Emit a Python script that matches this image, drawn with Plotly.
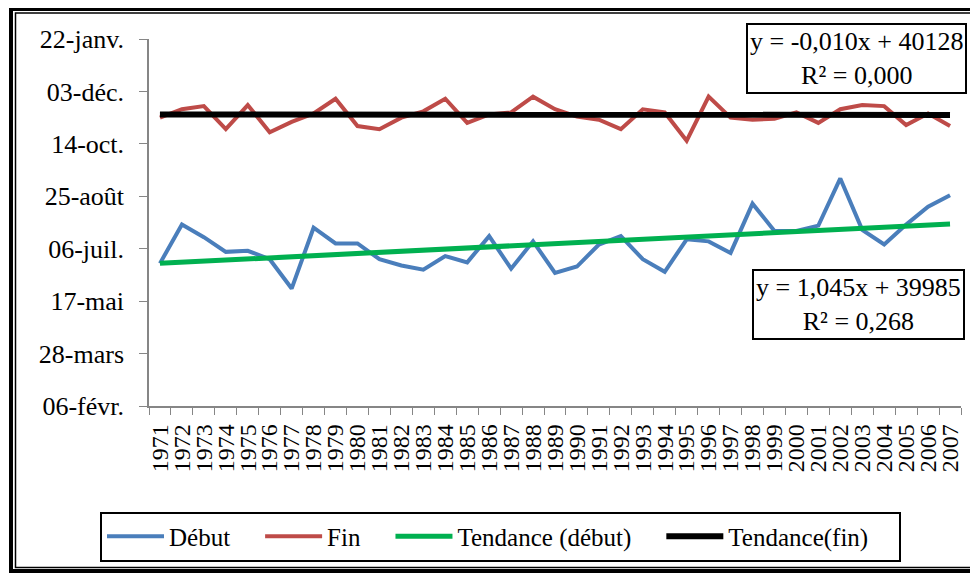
import plotly.graph_objects as go

annees = [str(a) for a in range(1971, 2008)]

debut = [39986, 40023, 40011, 39997, 39998, 39990, 39962, 40020, 40005, 40005,
         39990, 39984, 39980, 39993, 39987, 40012, 39981, 40007, 39977, 39983,
         40004, 40012, 39990, 39978, 40009, 40007, 39996, 40043, 40017, 40017,
         40022, 40067, 40018, 40004, 40023, 40040, 40051]

fin = [40125, 40133, 40136, 40114, 40137, 40111, 40121, 40129, 40143, 40117,
       40114, 40125, 40131, 40143, 40120, 40128, 40130, 40145, 40133, 40126,
       40123, 40114, 40133, 40130, 40103, 40145, 40125, 40123, 40124, 40130,
       40120, 40133, 40137, 40136, 40118, 40129, 40117]

# equations des courbes de tendance (affichées sur le graphique)
pente_debut, origine_debut, r2_debut = 1.045, 39985, 0.268
pente_fin, origine_fin, r2_fin = -0.010, 40128, 0.000

tick_vals = [39850, 39900, 39950, 40000, 40050, 40100, 40150, 40200]
tick_text = ['06-févr.', '28-mars', '17-mai', '06-juil.', '25-août', '14-oct.', '03-déc.', '22-janv.']

tendance_debut = [origine_debut + pente_debut * (i + 1) for i in range(len(annees))]
tendance_fin = [origine_fin + pente_fin * (i + 1) for i in range(len(annees))]

# la page html ajoute une marge de 8 px autour du graphique
OFF = 8
W, H = 978 - OFF, 574 - OFF
ML, MR, MT, MB = 149 - OFF, 17, 39 - OFF, 168
PW, PH = W - ML - MR, H - MT - MB


def px(x, y):
    # position en pixels de la page -> coordonnées 'paper'
    return (x - OFF - ML) / PW, (H - MB - (y - OFF)) / PH


def fr(v):
    return f'{v:.3f}'.replace('.', ',')


police = 'Liberation Serif, Times New Roman, serif'
pad = '\u00a0' * 4

fig = go.Figure()
fig.add_trace(go.Scatter(x=annees, y=debut, mode='lines', name='Début' + pad,
                         line=dict(color='#4A7EBB', width=4)))
fig.add_trace(go.Scatter(x=annees, y=fin, mode='lines', name='Fin' + pad,
                         line=dict(color='#BE4B48', width=4)))
fig.add_trace(go.Scatter(x=annees, y=tendance_debut, mode='lines', name='Tendance (début)' + pad,
                         line=dict(color='#00B050', width=5)))
fig.add_trace(go.Scatter(x=annees, y=tendance_fin, mode='lines', name='Tendance(fin)' + pad,
                         line=dict(color='black', width=6)))

signe_fin = '-' if pente_fin < 0 else ''
txt_fin = f'y = {signe_fin}{fr(abs(pente_fin))}x + {origine_fin}<br>R² = {fr(r2_fin)}'
txt_debut = f'y = {fr(pente_debut)}x + {origine_debut}<br>R² = {fr(r2_debut)}'

ax1, ay1 = px(856, 58)
ax2, ay2 = px(858, 304.5)
for tx, ax, ay in [(txt_fin, ax1, ay1), (txt_debut, ax2, ay2)]:
    fig.add_annotation(x=ax, y=ay, xref='paper', yref='paper', xanchor='center', yanchor='middle',
                       text=tx, showarrow=False,
                       font=dict(family=police, size=26, color='black'), align='center',
                       bordercolor='black', borderwidth=2, borderpad=2, bgcolor='white')

# cadre double autour du graphique
x0, y0 = px(11, 9)
x1, y1 = px(992, 571)
fig.add_shape(type='rect', xref='paper', yref='paper', x0=x0, y0=y0, x1=x1, y1=y1,
              line=dict(color='black', width=4))
x0, y0 = px(15.5, 13)
x1, y1 = px(987, 567.5)
fig.add_shape(type='rect', xref='paper', yref='paper', x0=x0, y0=y0, x1=x1, y1=y1,
              line=dict(color='black', width=1.5))

lx, ly = px(500.5, 536.5)
fig.update_layout(
    width=W, height=H,
    margin=dict(l=ML, r=MR, t=MT, b=MB),
    paper_bgcolor='white', plot_bgcolor='white',
    font=dict(family=police, color='black'),
    showlegend=True,
    legend=dict(orientation='h', x=lx, y=ly, xanchor='center', yanchor='middle',
                font=dict(family=police, size=25), bordercolor='black', borderwidth=2,
                bgcolor='white', itemwidth=57),
    xaxis=dict(type='category', range=[-0.5, len(annees) - 0.5], tickangle=-90,
               tickmode='linear', dtick=1, automargin=False,
               showline=True, linecolor='#868686', linewidth=1.5, ticks='outside',
               tickson='boundaries', ticklen=7, tickcolor='#868686', showgrid=False,
               tickfont=dict(family=police, size=24), zeroline=False, ticklabelstandoff=7),
    yaxis=dict(range=[tick_vals[0], tick_vals[-1]], tickvals=tick_vals, ticktext=tick_text,
               automargin=False,
               showline=True, linecolor='#868686', linewidth=1.5, ticks='outside',
               ticklen=8, tickcolor='#868686', showgrid=False, zeroline=False,
               tickfont=dict(family=police, size=26), ticklabelstandoff=10),
)

fig.write_html('out.html')
